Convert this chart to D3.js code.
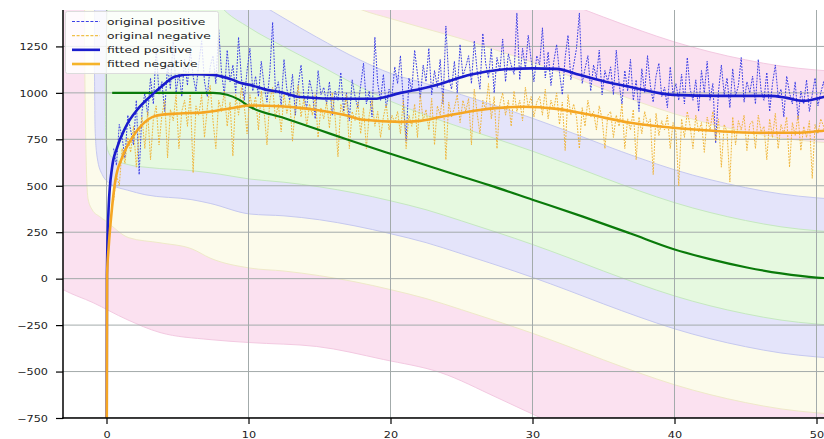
<!DOCTYPE html>
<html>
<head>
<meta charset="utf-8">
<script src="https://cdn.jsdelivr.net/npm/d3@7"></script>
<style>
  html, body { margin: 0; padding: 0; background: #ffffff; }
  svg { display: block; }
</style>
</head>
<body>
<svg id="chart" width="824" height="439"></svg>
<script>
// ---------------- data ----------------
const xTicks = [0, 10, 20, 30, 40, 50];
const yTicks = [-750, -500, -250, 0, 250, 500, 750, 1000, 1250];
const legendLabels = ["original positive", "original negative", "fitted positive", "fitted negative"];

// raw samples, taken every 0.2 from t = 0.5
const sampleStart = 0.5;
const sampleStep = 0.2;
const originalPositive = [
  700, 610, 830, 760, 650, 880, 800, 720, 960, 560, 900, 1000, 880, 1080, 940, 1240, 990, 1060, 900, 1150, 1020, 1300, 1000, 1110, 980,
  1180, 1040, 1230, 1090, 1010, 1160, 1280, 1060, 980, 1140, 1200, 1050, 1340, 1110, 990, 1230, 1060, 1150, 1000, 1300, 1080, 960, 1120, 1240, 1010,
  1090, 980, 1170, 1040, 950, 1110, 1380, 1000, 1060, 930, 1180, 1020, 960, 1100, 880, 1040, 1150, 980, 920, 1070, 1000, 860, 1120, 990, 1030,
  940, 1060, 880, 1010, 960, 1110, 900, 1000, 850, 1070, 980, 920, 1040, 1160, 940, 1010, 870, 1300, 1050, 960, 1100, 920, 1020, 980, 1140,
  1050, 1200, 960, 740, 1080, 1010, 1230, 1100, 970, 1150, 1060, 1240, 990, 1120, 1030, 1180, 940, 1360, 1080, 1020, 1170, 1000, 1260, 1090, 1140,
  1200, 1050, 1280, 1120, 1020, 1320, 1160, 1080, 1240, 1000, 1190, 1120, 1290, 1060, 1210, 1150, 1100, 1430, 1070, 1240, 1130, 1310, 1180, 1060, 1200,
  1150, 1350, 1080, 1220, 1040, 1170, 1260, 1110, 990, 1190, 1310, 1070, 1150, 1240, 1430, 1050, 1130, 1200, 1010, 1150, 1080, 1230, 990, 1120, 1060,
  1140, 990, 1230, 1050, 940, 1120, 1010, 1180, 960, 1070, 900, 1130, 1000, 1200, 1040, 950, 1090, 1160, 980, 1030, 920, 1140, 990, 1050, 960,
  1100, 940, 1190, 1020, 960, 1070, 900, 1120, 1000, 1170, 960, 1050, 730, 1010, 1150, 990, 1080, 920, 1130, 980, 1040, 1190, 950, 1060, 1000,
  1090, 940, 1180, 1010, 960, 1110, 900, 1050, 1150, 980, 1020, 870, 1090, 1000, 940, 1060, 860, 1010, 940, 1070, 900, 990, 1080, 930, 1000,
  1060, 950, 1080, 990, 1030, 1000
];
const originalNegative = [
  420, 560, 500, 700, 620, 760, 680, 820, 600, 780, 870, 700, 900, 640, 860, 930, 720, 880, 960, 650, 910, 850, 990, 700, 900,
  960, 820, 1000, 570, 930, 880, 990, 760, 920, 1040, 850, 700, 960, 900, 1010, 820, 950, 660, 990, 880, 1030, 930, 780, 990, 910,
  980, 800, 1010, 900, 720, 960, 1030, 860, 940, 790, 1000, 890, 960, 740, 930, 1040, 870, 970, 820, 940, 880, 990, 760, 920, 860,
  950, 810, 1000, 870, 656, 940, 880, 990, 700, 900, 850, 950, 780, 920, 700, 880, 960, 820, 900, 760, 870, 940, 800, 880, 840,
  900, 780, 960, 700, 880, 820, 940, 760, 990, 850, 910, 800, 970, 720, 930, 880, 1000, 640, 950, 870, 920, 990, 840, 960, 900,
  970, 720, 1020, 890, 780, 960, 910, 1050, 860, 980, 700, 940, 1000, 880, 960, 820, 1010, 900, 960, 850, 1030, 920, 980, 870, 950,
  980, 880, 1020, 860, 960, 910, 1000, 830, 950, 690, 990, 880, 940, 870, 700, 920, 820, 960, 870, 900, 800, 930, 860, 700, 880,
  900, 760, 880, 820, 940, 700, 860, 800, 910, 640, 870, 780, 900, 830, 860, 560, 890, 770, 850, 800, 880, 700, 840, 790, 500,
  860, 760, 900, 820, 700, 880, 790, 840, 680, 870, 800, 900, 740, 860, 600, 830, 790, 520, 870, 720, 850, 800, 880, 690, 830,
  850, 700, 880, 790, 820, 640, 860, 760, 890, 700, 830, 780, 870, 600, 840, 770, 880, 690, 820, 760, 850, 540, 830, 780, 860,
  820, 730, 850, 780, 800, 760
];

// fitted curves, [t, value]
const fittedPositive = [
  [0, -1500], [0.03, 20], [0.15, 382], [0.39, 597], [0.74, 704], [1.32, 812], [2.27, 919], [3.2, 989],
  [3.91, 1037], [4.85, 1088], [6.09, 1100], [7.5, 1097], [8.0, 1090], [8.9, 1070], [9.4, 1054], [10.1, 1043],
  [11.3, 1016], [12.2, 1005], [13.6, 978], [16.9, 968], [18.8, 968], [20.7, 1000], [22.1, 1021], [23.5, 1048],
  [25.6, 1097], [27.7, 1124], [30.0, 1132], [31.7, 1129], [33.3, 1097], [35.2, 1059], [36.9, 1032], [39.9, 989],
  [43.2, 984], [46.7, 984], [47.9, 973], [49.05, 957], [50.5, 978], [51.5, 990]
];
const fittedNegative = [
  [0, -1500], [0.04, 20], [0.15, 167], [0.39, 382], [0.62, 527], [1.09, 650], [1.8, 758], [2.5, 828],
  [3.44, 876], [4.61, 887], [6.02, 892], [6.58, 893], [8.9, 919], [10.1, 932], [12.2, 928], [13.6, 919],
  [14.8, 908], [16.7, 882], [18.1, 855], [20.7, 844], [22.1, 849], [23.5, 870], [26.3, 908], [29.3, 925],
  [31.7, 914], [34.05, 882], [36.9, 839], [39.9, 812], [42.7, 796], [46.2, 785], [48.6, 785], [50.5, 796], [51.5, 800]
];
const targetCurve = [
  [0.4, 1000], [7.5, 1000], [8.5, 990], [9.3, 965], [10.1, 925], [12.5, 865], [15, 800], [16.9, 750],
  [20, 672], [23.5, 586], [27, 502], [30, 425], [33.5, 335], [36.9, 243], [39.9, 160], [42.5, 105],
  [45.1, 60], [47.5, 28], [50, 6], [51, 2], [52, 0]
];

// interval bands around the fitted trend, [t, value]
const band997Upper = [
  [-3.5, 2400], [20, 2000], [25, 1690], [27.5, 1620], [30, 1551], [32.5, 1481], [35, 1408], [37.5, 1338],
  [40, 1274], [42.5, 1221], [45, 1178], [47.5, 1144], [50, 1123], [52.5, 1111], [56, 1106]
];
const band997Lower = [
  [-3.5, -40], [-3.06, -59], [-0.95, -129], [1.44, -220], [3.77, -290], [7.29, -328], [10.1, -344],
  [14.8, -365], [19.5, -435], [23.5, -505], [27.5, -640], [30.6, -750], [35, -890], [40, -1020],
  [45, -1100], [50, -1150], [56, -1160]
];
const band95Upper = [
  [-1.55, 1300], [-1.45, 2400], [15, 1560], [18, 1446], [20, 1400], [22.5, 1345], [25, 1291], [27.5, 1229],
  [30, 1164], [32.5, 1094], [35, 1021], [37.5, 951], [40, 887], [42.5, 834], [45, 791], [47.5, 757],
  [50, 736], [52.5, 724], [56, 719]
];
const band95Lower = [
  [-1.55, 1250], [-1.45, 700], [-1.3, 430], [-1.0, 370], [-0.5, 335], [-0.08, 312], [1.58, 220], [3.77, 193],
  [6.02, 160], [7.29, 111], [10.1, 57], [12.5, 41], [15, 16], [17.5, -17], [20, -59], [22.5, -107],
  [25, -167], [27.5, -229], [30, -294], [32.5, -364], [35, -437], [37.5, -507], [40, -571], [42.5, -624],
  [45, -667], [47.5, -701], [50, -722], [52.5, -734], [56, -739]
];
const band75Upper = [
  [-0.85, 1200], [-0.75, 2400], [10, 1520], [12.36, 1408], [14.8, 1300], [17.85, 1177], [20, 1105],
  [22.5, 1050], [25, 990], [27.5, 928], [30, 863], [32.5, 793], [35, 720], [37.5, 650], [40, 586],
  [42.5, 533], [45, 490], [47.5, 456], [50, 435], [52.5, 423], [56, 418]
];
const band75Lower = [
  [-0.85, 1150], [-0.8, 800], [-0.65, 650], [-0.3, 560], [0.39, 505], [1.5, 476], [2.71, 452], [6.02, 425],
  [7.3, 405], [10.1, 348], [12.5, 338], [15, 317], [17.5, 284], [20, 242], [22.5, 194], [25, 134],
  [27.5, 72], [30, 7], [32.5, -63], [35, -136], [37.5, -206], [40, -270], [42.5, -323], [45, -366],
  [47.5, -400], [50, -421], [52.5, -433], [56, -438]
];
const band50Upper = [
  [-0.08, 1150], [0.3, 1700], [5, 1900], [8, 1470], [10.1, 1349], [12.36, 1253], [14.8, 1156],
  [17.85, 1032], [20, 955], [22.5, 880], [25, 813], [27.5, 751], [30, 686], [32.5, 616], [35, 543],
  [37.5, 473], [40, 409], [42.5, 356], [45, 313], [47.5, 279], [50, 258], [52.5, 246], [56, 241]
];
const band50Lower = [
  [-0.08, 1150], [-0.07, 780], [0.1, 690], [0.5, 645], [1.58, 613], [3, 598], [6.02, 581], [8, 562],
  [10.1, 536], [12.5, 519], [15, 494], [17.5, 461], [20, 419], [22.5, 371], [25, 311], [27.5, 249],
  [30, 184], [32.5, 114], [35, 41], [37.5, -29], [40, -93], [42.5, -146], [45, -189], [47.5, -223],
  [50, -244], [52.5, -256], [56, -261]
];

// ---------------- layout ----------------
const W = 824, H = 439;
const plotLeft = 63, plotTop = 10, plotBottom = 418;
const pxPerUnit = 14.2;
const xZero = 106.5;

const x = d3.scaleLinear()
  .domain([(plotLeft - xZero) / pxPerUnit, 64])
  .range([plotLeft, xZero + 64 * pxPerUnit]);
const y = d3.scaleLinear()
  .domain([-750, 1446])
  .range([plotBottom, plotTop]);

const svg = d3.select("#chart");
const defs = svg.append("defs");
defs.append("clipPath").attr("id", "plotClip")
  .append("rect")
  .attr("x", plotLeft).attr("y", plotTop)
  .attr("width", W - plotLeft + 10).attr("height", plotBottom - plotTop);

const plot = svg.append("g").attr("clip-path", "url(#plotClip)");

// ---------------- bands ----------------
const edgeLine = d3.line()
  .x(d => x(d[0]))
  .y(d => y(d[1]))
  .curve(d3.curveMonotoneX);

function bandPath(upper, lower) {
  const top = edgeLine(upper);
  const bottom = edgeLine(lower.slice().reverse());
  return top + bottom.replace(/^M/, "L") + "Z";
}

const bands = [
  { upper: band997Upper, lower: band997Lower, fill: "#fbe1f0", edge: "#f3c9e1" },
  { upper: band95Upper,  lower: band95Lower,  fill: "#fcfbeb", edge: "#efe9c9" },
  { upper: band75Upper,  lower: band75Lower,  fill: "#e4e4fa", edge: "#c6c9ef" },
  { upper: band50Upper,  lower: band50Lower,  fill: "#e6f9e0", edge: "#c5e8c0" }
];
plot.selectAll("path.band")
  .data(bands)
  .join("path")
  .attr("class", "band")
  .attr("d", d => bandPath(d.upper, d.lower))
  .attr("fill", d => d.fill)
  .attr("stroke", d => d.edge)
  .attr("stroke-width", 1);

// ---------------- grid ----------------
const grid = plot.append("g");
grid.selectAll("line.gx")
  .data(xTicks)
  .join("line")
  .attr("x1", d => x(d)).attr("x2", d => x(d))
  .attr("y1", plotTop).attr("y2", plotBottom)
  .attr("stroke", "#a3abab").attr("stroke-width", 1);
grid.selectAll("line.gy")
  .data(yTicks)
  .join("line")
  .attr("x1", plotLeft).attr("x2", W)
  .attr("y1", d => y(d)).attr("y2", d => y(d))
  .attr("stroke", "#a3abab").attr("stroke-width", 1);

// ---------------- series ----------------
const rawLine = d3.line().x(d => x(d[0])).y(d => y(d[1]));
const samplesOf = values => values.map((v, i) => [sampleStart + i * sampleStep, v]);

plot.append("path")
  .datum(samplesOf(originalPositive))
  .attr("d", rawLine)
  .attr("fill", "none")
  .attr("stroke", "#3b3fe6")
  .attr("stroke-width", 1)
  .attr("stroke-dasharray", "1.8,1.2");

plot.append("path")
  .datum(samplesOf(originalNegative))
  .attr("d", rawLine)
  .attr("fill", "none")
  .attr("stroke", "#f0b53a")
  .attr("stroke-width", 1)
  .attr("stroke-dasharray", "1.8,1.2");

plot.append("path")
  .datum(targetCurve)
  .attr("d", edgeLine)
  .attr("fill", "none")
  .attr("stroke", "#0a7a0a")
  .attr("stroke-width", 2.2);

plot.append("path")
  .datum(fittedPositive)
  .attr("d", edgeLine)
  .attr("fill", "none")
  .attr("stroke", "#1a1ccc")
  .attr("stroke-width", 2.6);

plot.append("path")
  .datum(fittedNegative)
  .attr("d", edgeLine)
  .attr("fill", "none")
  .attr("stroke", "#f5a623")
  .attr("stroke-width", 2.6);

// ---------------- axes ----------------
const fmt = v => (v < 0 ? "\u2212" + Math.abs(v) : String(v));
const font = "DejaVu Sans, sans-serif";

const yAxis = svg.append("g")
  .attr("transform", `translate(${plotLeft},0)`)
  .call(d3.axisLeft(y).tickValues(yTicks).tickFormat(fmt).tickSize(7).tickSizeOuter(0));
yAxis.select(".domain").remove();
yAxis.selectAll(".tick line").attr("stroke", "#000").attr("stroke-width", 1.2);
yAxis.selectAll(".tick text")
  .attr("x", null).attr("dy", null)
  .attr("transform", "translate(-15,3.3) scale(1.25,1)")
  .attr("text-anchor", "end")
  .attr("font-family", font).attr("font-size", 9).attr("fill", "#222");

const xAxis = svg.append("g")
  .attr("transform", `translate(0,${plotBottom})`)
  .call(d3.axisBottom(x).tickValues(xTicks).tickFormat(fmt).tickSize(6).tickSizeOuter(0));
xAxis.select(".domain").remove();
xAxis.selectAll(".tick line").attr("stroke", "#000").attr("stroke-width", 1.2);
xAxis.selectAll(".tick text")
  .attr("y", null).attr("dy", null)
  .attr("transform", "translate(0,19.5) scale(1.25,1)")
  .attr("text-anchor", "middle")
  .attr("font-family", font).attr("font-size", 9).attr("fill", "#222");

// spines
svg.append("line")
  .attr("x1", plotLeft).attr("x2", plotLeft)
  .attr("y1", plotTop).attr("y2", plotBottom + 0.75)
  .attr("stroke", "#000").attr("stroke-width", 1.5);
svg.append("line")
  .attr("x1", plotLeft - 0.75).attr("x2", W)
  .attr("y1", plotBottom).attr("y2", plotBottom)
  .attr("stroke", "#000").attr("stroke-width", 1.5);

// ---------------- legend ----------------
const legendStyles = [
  { color: "#3b3fe6", width: 1.2, dash: "3,1.6" },
  { color: "#f0c04a", width: 1.2, dash: "3,1.6" },
  { color: "#1a1ccc", width: 2.6, dash: null },
  { color: "#f5b32a", width: 2.6, dash: null }
];
const legend = svg.append("g");
legend.append("rect")
  .attr("x", 65.5).attr("y", 11.5)
  .attr("width", 153).attr("height", 62)
  .attr("rx", 2)
  .attr("fill", "#ffffff").attr("fill-opacity", 0.82)
  .attr("stroke", "#dcdcdc").attr("stroke-width", 1);

const rowY = d3.scalePoint().domain(legendLabels).range([21.5, 64]);
const rows = legend.selectAll("g.row")
  .data(legendLabels)
  .join("g")
  .attr("class", "row")
  .attr("transform", d => `translate(0,${rowY(d)})`);
rows.append("line")
  .attr("x1", 72).attr("x2", 100)
  .attr("y1", 0).attr("y2", 0)
  .attr("stroke", (d, i) => legendStyles[i].color)
  .attr("stroke-width", (d, i) => legendStyles[i].width)
  .attr("stroke-dasharray", (d, i) => legendStyles[i].dash);
rows.append("text")
  .attr("transform", "translate(107,3.3) scale(1.3,1)")
  .attr("font-family", font).attr("font-size", 9.5).attr("fill", "#222")
  .text(d => d);
</script>
</body>
</html>
